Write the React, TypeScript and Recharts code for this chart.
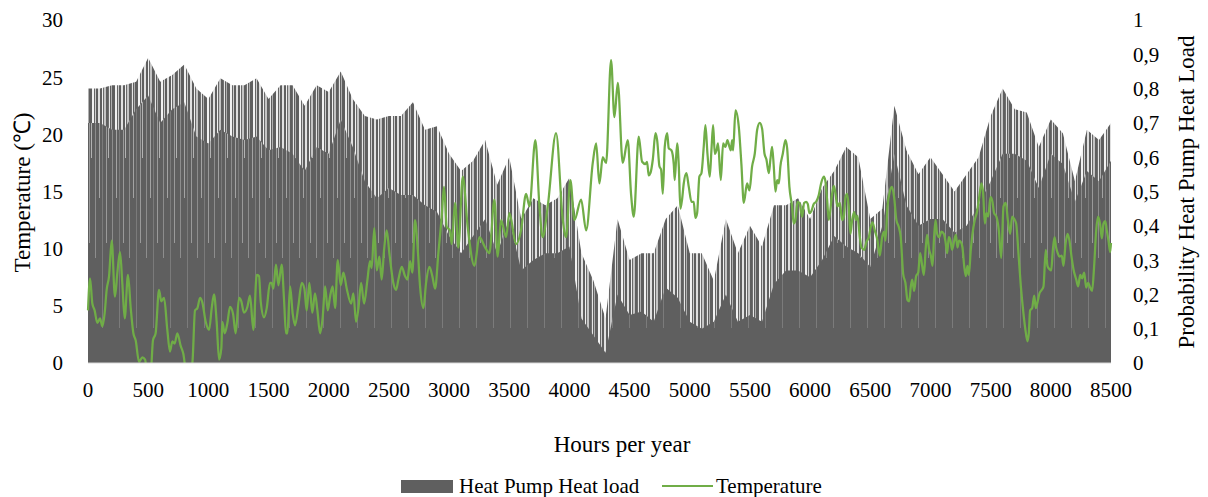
import React from 'react';
import { ComposedChart, Area, Line, XAxis, YAxis, Customized } from 'recharts';

const FONT = '"Liberation Serif", "Times New Roman", serif';

// Hour positions of the heat-load readings (every 100 h)
const loadHours = [
  0, 100, 200, 300, 400, 500, 600, 700, 800, 900,
  1000, 1100, 1200, 1300, 1400, 1500, 1600, 1700, 1800, 1900,
  2000, 2100, 2200, 2300, 2400, 2500, 2600, 2700, 2800, 2900,
  3000, 3100, 3200, 3300, 3400, 3500, 3600, 3700, 3800, 3900,
  4000, 4100, 4200, 4300, 4400, 4500, 4600, 4700, 4800, 4900,
  5000, 5100, 5200, 5300, 5400, 5500, 5600, 5700, 5800, 5900,
  6000, 6100, 6200, 6300, 6400, 6500, 6600, 6700, 6800, 6900,
  7000, 7100, 7200, 7300, 7400, 7500, 7600, 7700, 7800, 7900,
  8000, 8100, 8200, 8300, 8400, 8500,
];

// Heat pump heat load probability: spike tops
const loadPeak = [
  0.80, 0.80, 0.81, 0.81, 0.82, 0.89, 0.82, 0.84, 0.87, 0.80,
  0.77, 0.83, 0.81, 0.81, 0.83, 0.77, 0.81, 0.81, 0.75, 0.81,
  0.79, 0.85, 0.77, 0.72, 0.71, 0.72, 0.72, 0.76, 0.68, 0.69,
  0.61, 0.56, 0.59, 0.65, 0.52, 0.60, 0.42, 0.48, 0.46, 0.48,
  0.54, 0.32, 0.24, 0.13, 0.42, 0.30, 0.32, 0.32, 0.42, 0.46,
  0.32, 0.32, 0.24, 0.42, 0.32, 0.40, 0.34, 0.46, 0.46, 0.48,
  0.42, 0.51, 0.56, 0.63, 0.60, 0.42, 0.45, 0.75, 0.62, 0.55,
  0.60, 0.55, 0.50, 0.55, 0.60, 0.72, 0.80, 0.74, 0.73, 0.63,
  0.71, 0.67, 0.53, 0.68, 0.65, 0.70,
];

// Heat pump heat load probability: dense body level
const loadBody = [
  0.70, 0.70, 0.68, 0.68, 0.74, 0.78, 0.70, 0.74, 0.76, 0.66,
  0.64, 0.68, 0.66, 0.65, 0.66, 0.62, 0.63, 0.61, 0.56, 0.63,
  0.61, 0.71, 0.63, 0.53, 0.48, 0.51, 0.49, 0.49, 0.46, 0.44,
  0.37, 0.32, 0.37, 0.42, 0.32, 0.42, 0.27, 0.30, 0.32, 0.32,
  0.34, 0.13, 0.08, 0.03, 0.20, 0.14, 0.15, 0.12, 0.22, 0.19,
  0.12, 0.10, 0.12, 0.20, 0.12, 0.14, 0.12, 0.23, 0.27, 0.27,
  0.25, 0.30, 0.37, 0.34, 0.32, 0.28, 0.40, 0.61, 0.46, 0.40,
  0.42, 0.42, 0.38, 0.40, 0.46, 0.53, 0.61, 0.61, 0.59, 0.51,
  0.61, 0.58, 0.47, 0.56, 0.53, 0.59,
];

// Temperature readings (hour, °C)
const tempHours = [
  0, 17, 36, 55, 78, 100, 119, 139, 155, 175, 197, 224, 244, 266, 285, 305, 332, 355, 377, 396,
  424, 452, 474, 493, 521, 540, 562, 590, 609, 632, 659, 681, 701, 720, 742, 770, 792, 812, 839, 867,
  889, 909, 931, 950, 978, 1006, 1028, 1047, 1069, 1089, 1108, 1116, 1136, 1158, 1180, 1205, 1227, 1255, 1274, 1296,
  1324, 1346, 1374, 1402, 1421, 1435, 1463, 1485, 1512, 1526, 1540, 1562, 1582, 1609, 1629, 1645, 1657, 1679, 1701, 1720,
  1748, 1776, 1798, 1817, 1839, 1864, 1886, 1906, 1928, 1950, 1970, 1992, 2011, 2033, 2053, 2075, 2100, 2122, 2150, 2186,
  2205, 2227, 2247, 2269, 2294, 2321, 2343, 2357, 2379, 2399, 2421, 2440, 2460, 2482, 2504, 2537, 2560, 2579, 2607, 2634,
  2654, 2676, 2695, 2717, 2740, 2759, 2787, 2809, 2837, 2861, 2884, 2911, 2939, 2958, 2981, 3008, 3022, 3050, 3077, 3114,
  3155, 3211, 3252, 3300, 3335, 3377, 3404, 3432, 3474, 3501, 3557, 3598, 3640, 3668, 3717, 3751, 3778, 3820, 3889, 3945,
  3972, 4008, 4042, 4097, 4139, 4194, 4222, 4249, 4277, 4305, 4346, 4374, 4402, 4443, 4485, 4512, 4535, 4576, 4604, 4632,
  4645, 4659, 4673, 4693, 4715, 4729, 4748, 4762, 4776, 4792, 4812, 4825, 4848, 4867, 4875, 4895, 4909, 4922, 4936, 4950,
  4972, 4992, 5014, 5033, 5047, 5061, 5080, 5097, 5116, 5130, 5147, 5166, 5180, 5194, 5208, 5222, 5235, 5258, 5277, 5296,
  5313, 5330, 5341, 5352, 5360, 5380, 5407, 5429, 5449, 5476, 5496, 5518, 5540, 5560, 5582, 5601, 5621, 5637, 5657, 5670,
  5684, 5698, 5712, 5726, 5740, 5753, 5773, 5795, 5809, 5828, 5850, 5864, 5878, 5895, 5911, 5934, 5950, 5967, 5981, 5994,
  6011, 6030, 6050, 6072, 6091, 6114, 6127, 6141, 6155, 6183, 6197, 6211, 6227, 6247, 6266, 6280, 6294, 6307, 6321, 6335,
  6349, 6366, 6380, 6393, 6413, 6427, 6449, 6468, 6488, 6504, 6518, 6537, 6560, 6579, 6598, 6615, 6626, 6643, 6662, 6681,
  6698, 6717, 6737, 6753, 6773, 6792, 6809, 6823, 6837, 6848, 6864, 6881, 6898, 6914, 6931, 6945, 6961, 6972, 6989, 7003,
  7017, 7030, 7042, 7055, 7072, 7091, 7111, 7125, 7139, 7152, 7166, 7180, 7197, 7211, 7224, 7238, 7252, 7266, 7280, 7294,
  7307, 7319, 7335, 7349, 7368, 7388, 7405, 7424, 7438, 7452, 7465, 7479, 7499, 7515, 7529, 7548, 7568, 7588, 7607, 7626,
  7643, 7662, 7679, 7695, 7712, 7731, 7751, 7773, 7789, 7806, 7817, 7828, 7845, 7862, 7875, 7889, 7906, 7925, 7939, 7958,
  7972, 7989, 8003, 8017, 8031, 8044, 8058, 8072, 8091, 8105, 8122, 8139, 8155, 8172, 8188, 8211, 8227, 8244, 8260, 8277,
  8294, 8310, 8327, 8343, 8360, 8377, 8393, 8410, 8424, 8438, 8452, 8465, 8479, 8493, 8500,
];
const tempValues = [
  4.6, 7.4, 5.2, 4.6, 3.5, 3.9, 3.2, 4.4, 6.4, 7.6, 10.7, 5.8, 7.9, 9.7, 7.0, 3.9, 7.7, 4.8, 2.6, 2.0,
  0.1, 0.5, 0.3, -0.8, -0.8, 2.0, 2.6, 6.4, 5.4, 5.7, 2.9, 1.0, 1.9, 1.7, 2.6, 1.5, 0.8, -0.5, -0.8, 0.0,
  4.6, 4.8, 5.7, 5.3, 3.6, 2.9, 4.8, 6.0, 3.6, 0.3, 1.3, 3.6, 2.6, 3.5, 4.9, 4.3, 2.6, 5.7, 5.4, 4.4,
  4.9, 5.9, 2.9, 7.7, 7.6, 5.4, 4.0, 4.8, 7.0, 7.0, 6.5, 8.6, 6.8, 8.6, 5.5, 2.6, 2.6, 6.7, 4.3, 3.3,
  5.0, 7.0, 6.5, 4.6, 7.0, 4.4, 6.1, 4.6, 2.6, 4.0, 6.7, 4.6, 5.8, 6.7, 4.8, 9.0, 6.8, 7.9, 6.5, 5.2,
  6.1, 3.6, 4.8, 7.0, 5.2, 7.2, 8.9, 8.3, 11.8, 8.1, 9.3, 7.3, 9.9, 11.6, 9.6, 7.0, 6.4, 7.3, 8.4, 7.6,
  7.3, 8.9, 7.9, 12.5, 9.9, 6.7, 4.8, 7.0, 8.4, 7.6, 6.5, 9.6, 12.8, 15.4, 11.9, 11.6, 10.4, 14.0, 10.1, 16.3,
  11.9, 8.5, 11.0, 10.1, 9.6, 14.3, 9.3, 12.5, 11.0, 13.1, 10.4, 11.6, 14.8, 13.7, 19.5, 13.7, 11.0, 13.7, 20.1, 12.5,
  11.0, 16.0, 12.5, 14.3, 11.6, 17.5, 19.2, 15.7, 18.0, 17.5, 26.5, 21.5, 24.5, 17.5, 19.5, 14.8, 12.8, 19.8, 17.6, 17.4,
  17.6, 16.4, 16.6, 17.8, 20.1, 19.5, 17.2, 16.9, 14.8, 18.9, 20.1, 18.8, 18.6, 17.4, 16.0, 19.2, 17.2, 13.5, 14.3, 15.7,
  16.6, 15.4, 14.1, 14.1, 12.7, 13.1, 16.3, 16.6, 18.9, 20.8, 18.3, 16.3, 18.6, 20.8, 18.3, 18.6, 19.2, 16.0, 19.2, 18.9,
  19.5, 18.9, 18.6, 19.5, 18.6, 22.1, 20.7, 17.4, 14.0, 15.7, 15.1, 17.2, 18.3, 20.4, 21.0, 20.5, 18.3, 17.8, 16.6, 17.8,
  18.9, 17.2, 15.0, 16.0, 15.7, 17.2, 18.3, 19.5, 18.8, 15.4, 13.7, 12.2, 12.5, 14.1, 14.0, 12.8, 14.0, 14.1, 13.9, 13.1,
  13.3, 13.9, 14.1, 14.7, 15.7, 16.3, 15.9, 14.3, 12.5, 14.8, 15.5, 14.8, 13.7, 14.0, 12.5, 12.8, 14.5, 14.8, 13.7, 11.3,
  12.5, 13.2, 12.5, 12.9, 11.0, 10.1, 9.9, 10.6, 11.0, 11.9, 12.3, 11.6, 10.7, 9.4, 11.0, 11.5, 10.7, 13.7, 15.0, 15.4,
  14.5, 12.5, 11.9, 11.0, 7.8, 7.0, 5.5, 5.4, 6.7, 7.3, 6.3, 7.6, 7.9, 9.6, 8.5, 7.7, 10.1, 11.2, 9.9, 9.4,
  8.5, 11.0, 12.5, 11.3, 11.0, 11.5, 11.3, 10.6, 9.6, 11.0, 10.7, 9.9, 10.7, 11.2, 10.1, 10.7, 10.6, 10.1, 8.5, 7.6,
  8.5, 7.7, 9.9, 11.3, 12.5, 13.3, 14.5, 15.7, 14.8, 12.2, 13.1, 12.8, 14.5, 14.1, 13.1, 12.8, 11.6, 9.2, 13.7, 14.0,
  12.5, 11.3, 12.8, 12.6, 12.2, 9.6, 6.7, 4.3, 2.9, 1.9, 2.6, 4.6, 4.8, 5.9, 4.8, 5.3, 6.1, 6.4, 6.7, 9.9,
  8.5, 8.2, 8.1, 9.9, 11.0, 10.1, 9.6, 9.3, 9.4, 8.5, 10.4, 11.3, 10.7, 9.3, 8.2, 7.3, 6.7, 7.7, 7.4, 7.9,
  6.6, 7.0, 6.6, 6.3, 8.5, 11.6, 12.8, 12.1, 10.9, 12.2, 12.4, 11.6, 10.7, 9.7, 10.5,
];

const xTicks = [0, 500, 1000, 1500, 2000, 2500, 3000, 3500, 4000, 4500, 5000, 5500, 6000, 6500, 7000, 7500, 8000, 8500];
const tempTicks = [0, 5, 10, 15, 20, 25, 30];
const probTicks = [0, 0.1, 0.2, 0.3, 0.4, 0.5, 0.6, 0.7, 0.8, 0.9, 1];
const probLabels = ['0', '0,1', '0,2', '0,3', '0,4', '0,5', '0,6', '0,7', '0,8', '0,9', '1'];

const xTitle = 'Hours per year';
const leftTitle = 'Temperature (℃)';
const rightTitle = 'Probability Heat Pump Heat Load';
const loadName = 'Heat Pump Heat load';
const tempName = 'Temperature';

const LOAD_COLOR = '#5f5f5f';
const TEMP_COLOR = '#70AD47';

type Row = { hour: number; peak?: number; body?: number; temp?: number };

const rowMap = new Map<number, Row>();
loadHours.forEach((h, i) => {
  rowMap.set(h, { hour: h, peak: loadPeak[i], body: loadBody[i] });
});
tempHours.forEach((h, i) => {
  const r = rowMap.get(h) || { hour: h };
  r.temp = tempValues[i];
  rowMap.set(h, r);
});
const data: Row[] = Array.from(rowMap.values()).sort((a, b) => a.hour - b.hour);

const tickStyle = { fontSize: 21, fill: '#000', fontFamily: FONT };

// irregular vertical streak textures (styling only)
const spikeStripes: [number, number, string][] = [
  [0, 2, LOAD_COLOR], [2, 1, '#f0f0f0'], [3, 1, '#6a6a6a'], [4, 2, '#c4c4c4'],
  [6, 2, LOAD_COLOR], [8, 1, '#6f6f6f'], [9, 1, '#e6e6e6'], [10, 1, LOAD_COLOR],
  [11, 1, '#b0b0b0'], [12, 3, LOAD_COLOR], [15, 2, '#f2f2f2'], [17, 1, '#666666'],
  [18, 1, '#cfcfcf'], [19, 2, LOAD_COLOR], [21, 2, '#e0e0e0'],
];
const bodyStreaks: [number, number, string][] = [
  [2, 250, '#8d8d8d'], [6, 190, '#a3a3a3'], [9, 320, '#7b7b7b'], [13, 235, '#9a9a9a'], [15, 150, '#b2b2b2'],
];

const Titles = () => (
  <g fontFamily={FONT} fill="#000">
    <text x={614} y={444} fontSize={23} textAnchor="middle">{xTitle}</text>
    <text transform="translate(14.5,184.5) rotate(-90)" fontSize={23} textAnchor="middle" dominantBaseline="central">
      {leftTitle}
    </text>
    <text transform="translate(1178,184) rotate(-90)" fontSize={23} textAnchor="middle" dominantBaseline="central">
      {rightTitle}
    </text>
    <rect x={393} y={472} width={52} height={13} fill={LOAD_COLOR} />
    <text x={451} y={485} fontSize={21}>{loadName}</text>
    <line x1={654} x2={705} y1={478} y2={478} stroke={TEMP_COLOR} strokeWidth={2} />
    <text x={708} y={485} fontSize={21}>{tempName}</text>
  </g>
);

export default function App() {
  return (
    <div style={{ width: 1192, height: 489, fontFamily: FONT }}>
      <ComposedChart
        width={1192}
        height={489}
        data={data}
        margin={{ top: 12, right: 0, bottom: 94, left: 0 }}
      >
        <defs>
          <pattern id="spikes" patternUnits="userSpaceOnUse" width={23} height={10}>
            {spikeStripes.map(([x, w, c], i) => (
              <rect key={i} x={x} y={0} width={w} height={10} fill={c} />
            ))}
          </pattern>
          <pattern id="body" patternUnits="userSpaceOnUse" width={17} height={489}>
            <rect x={0} y={0} width={17} height={489} fill={LOAD_COLOR} />
            {bodyStreaks.map(([x, h, c], i) => (
              <rect key={i} x={x} y={0} width={1} height={h} fill={c} />
            ))}
          </pattern>
        </defs>
        <XAxis
          dataKey="hour"
          type="number"
          domain={[0, 8500]}
          ticks={xTicks}
          interval={0}
          tickLine={false}
          axisLine={{ stroke: '#d9d9d9', strokeWidth: 1 }}
          tickSize={0}
          tickMargin={19}
          tick={tickStyle}
          height={40}
        />
        <YAxis
          yAxisId="temp"
          orientation="left"
          domain={[0, 30]}
          ticks={tempTicks}
          interval={0}
          allowDataOverflow
          axisLine={false}
          tickLine={false}
          tickSize={0}
          tickMargin={25}
          tick={tickStyle}
          width={80}
        />
        <YAxis
          yAxisId="prob"
          orientation="right"
          domain={[0, 1]}
          ticks={probTicks}
          interval={0}
          axisLine={false}
          tickLine={false}
          tickSize={0}
          tickMargin={22}
          tick={tickStyle}
          tickFormatter={(v: number) => probLabels[Math.round(v * 10)]}
          width={89}
        />
        <Area
          yAxisId="prob"
          dataKey="peak"
          type="linear"
          stroke="none"
          fill="url(#spikes)"
          fillOpacity={1}
          connectNulls
          isAnimationActive={false}
          dot={false}
          activeDot={false}
        />
        <Area
          yAxisId="prob"
          dataKey="body"
          type="linear"
          stroke="none"
          fill="url(#body)"
          fillOpacity={1}
          connectNulls
          isAnimationActive={false}
          dot={false}
          activeDot={false}
        />
        <Line
          yAxisId="temp"
          dataKey="temp"
          type="monotone"
          stroke={TEMP_COLOR}
          strokeWidth={2.25}
          dot={false}
          activeDot={false}
          connectNulls
          isAnimationActive={false}
        />
        <Customized component={Titles} />
      </ComposedChart>
    </div>
  );
}
